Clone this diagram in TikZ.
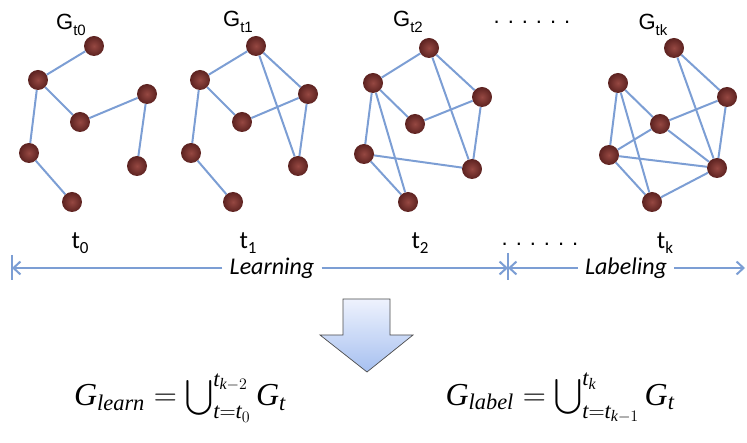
\documentclass[tikz,border=0pt]{standalone}
\usepackage{fix-cm}
\usepackage{exscale}
\usepackage{fontspec}
\setmainfont{Liberation Serif}
\newfontfamily\glabfont{Liberation Sans}
\newfontfamily\tlabfont{Carlito}
\usepackage{tikz}
\usetikzlibrary{arrows.meta, positioning}
\definecolor{nodebrown}{RGB}{92,34,32}
\definecolor{nodelight}{RGB}{150,72,66}
\definecolor{edgeblue}{RGB}{124,158,212}
\definecolor{arrowtop}{RGB}{238,242,253}
\definecolor{arrowbot}{RGB}{166,192,240}
\newcommand\gname[1]{G\raisebox{-6pt}{\fontsize{15}{15}\selectfont #1}}
\newcommand\tname[1]{t\raisebox{-5pt}{\fontsize{17}{17}\selectfont #1}}
\newcommand\sixdots{.\hspace{8pt}.\hspace{8pt}.\hspace{8pt}.\hspace{8pt}.\hspace{8pt}.}
\tikzset{
  vtx/.style    ={circle, inner color=nodelight, outer color=nodebrown,
                  minimum size=20pt, inner sep=0pt},
  gedge/.style  ={draw=edgeblue, line width=2pt},
  glab/.style   ={font=\glabfont\fontsize{22}{22}\selectfont, inner sep=0pt},
  tlab/.style   ={font=\tlabfont\fontsize{25}{25}\selectfont, inner sep=0pt},
  phase/.style  ={font=\tlabfont\itshape\fontsize{24}{24}\selectfont, inner xsep=7pt},
  tline/.style  ={-{Straight Barb[length=7pt,width=13pt]}, draw=edgeblue, line width=2pt},
  tbar/.style   ={draw=edgeblue, line width=1.6pt},
  bigarrow/.style={draw=black!70, line width=0.7pt, top color=arrowtop, bottom color=arrowbot},
  formula/.style={font=\fontsize{32}{38}\selectfont, inner sep=0pt},
}

\begin{document}
\begin{tikzpicture}[x=1pt, y=-1pt]
  \useasboundingbox (0,0) rectangle (747,443);

  % ── Snapshot G_t0 ──────────────────────────────────────────────────
  \node[glab] (h0) at (71,25) {\gname{t0}};
  \node[vtx] (a0) at (94,46)  {};
  \node[vtx] (b0) at (38,80)  {};
  \node[vtx] (c0) at (80,122) {};
  \node[vtx] (d0) at (147,94) {};
  \node[vtx] (e0) at (29,153) {};
  \node[vtx] (f0) at (137,166) {};
  \node[vtx] (g0) at (72,202) {};

  \draw[gedge] (a0)--(b0); \draw[gedge] (b0)--(c0); \draw[gedge] (c0)--(d0);
  \draw[gedge] (d0)--(f0); \draw[gedge] (b0)--(e0); \draw[gedge] (e0)--(g0);

  % ── Snapshot G_t1 ──────────────────────────────────────────────────
  \node[glab] (h1) at (238,22) {\gname{t1}};
  \node[vtx] (a1) at (256,46)  {};
  \node[vtx] (b1) at (200,80)  {};
  \node[vtx] (c1) at (242,122) {};
  \node[vtx] (d1) at (308,94)  {};
  \node[vtx] (e1) at (191,153) {};
  \node[vtx] (f1) at (298,166) {};
  \node[vtx] (g1) at (233,202) {};

  \draw[gedge] (a1)--(b1); \draw[gedge] (b1)--(c1); \draw[gedge] (c1)--(d1);
  \draw[gedge] (a1)--(d1); \draw[gedge] (a1)--(f1); \draw[gedge] (d1)--(f1);
  \draw[gedge] (b1)--(e1); \draw[gedge] (e1)--(g1);

  % ── Snapshot G_t2 ──────────────────────────────────────────────────
  \node[glab] (h2) at (408,22) {\gname{t2}};
  \node[vtx] (a2) at (429,48)  {};
  \node[vtx] (b2) at (373,83)  {};
  \node[vtx] (c2) at (415,124) {};
  \node[vtx] (d2) at (482,97)  {};
  \node[vtx] (e2) at (364,154) {};
  \node[vtx] (f2) at (472,169) {};
  \node[vtx] (g2) at (408,202) {};

  \draw[gedge] (a2)--(b2); \draw[gedge] (b2)--(c2); \draw[gedge] (c2)--(d2);
  \draw[gedge] (a2)--(d2); \draw[gedge] (a2)--(f2); \draw[gedge] (d2)--(f2);
  \draw[gedge] (b2)--(e2); \draw[gedge] (e2)--(g2); \draw[gedge] (e2)--(f2);
  \draw[gedge] (b2)--(g2);

  \node[glab] (hdots) at (532,22) {\sixdots};

  % ── Snapshot G_tk ──────────────────────────────────────────────────
  \node[glab] (hk) at (653,25) {\gname{tk}};
  \node[vtx] (ak) at (674,48)  {};
  \node[vtx] (bk) at (618,83)  {};
  \node[vtx] (ck) at (660,124) {};
  \node[vtx] (dk) at (727,97)  {};
  \node[vtx] (ek) at (609,155) {};
  \node[vtx] (fk) at (717,168) {};
  \node[vtx] (gk) at (652,202) {};

  \draw[gedge] (ak)--(dk); \draw[gedge] (ak)--(fk); \draw[gedge] (dk)--(fk);
  \draw[gedge] (bk)--(ck); \draw[gedge] (ck)--(dk); \draw[gedge] (ck)--(fk);
  \draw[gedge] (bk)--(ek); \draw[gedge] (bk)--(gk); \draw[gedge] (ek)--(ck);
  \draw[gedge] (ek)--(fk); \draw[gedge] (ek)--(gk); \draw[gedge] (gk)--(fk);

  % ── Time axis ──────────────────────────────────────────────────────
  \node[tlab] (t0) at (80,243)  {\tname{0}};
  \node[tlab] (t1) at (248,243) {\tname{1}};
  \node[tlab] (t2) at (420,243) {\tname{2}};
  \node[glab] (tdots) at (540,244) {\sixdots};
  \node[tlab] (tk) at (665,243) {\tname{k}};

  \coordinate (lstart) at (12,268);
  \coordinate (lsplit) at (508,268);
  \coordinate (lend)   at (745,268);
  \node[phase] (learn) at (272,268) {Learning};
  \node[phase] (label) at (626,268) {Labeling};

  \draw[tbar] ([yshift=13pt]lstart) -- ([yshift=-12pt]lstart);
  \draw[tbar] ([yshift=15pt]lsplit) -- ([yshift=-12pt]lsplit);
  \draw[tline] (learn.west) -- (lstart);
  \draw[tline] (learn.east) -- (lsplit);
  \draw[tline] (label.west) -- (lsplit);
  \draw[tline] (label.east) -- (lend);

  % ── Block arrow and union formulas ─────────────────────────────────
  \draw[bigarrow] (343,299) -- (390,299) -- (390,335) -- (413,335)
                  -- (367,372) -- (320,335) -- (343,335) -- cycle;

  \node[formula] (flearn) at (180,398)
    {$\displaystyle \mathit{G}_{\mathit{learn}} = \bigcup\nolimits_{\mathit{t}=\mathit{t}_0}^{\mathit{t}_{\mathit{k}-2}} \mathit{G}_{\mathit{t}}$};
  \node[formula] (flabel) at (560,398)
    {$\displaystyle \mathit{G}_{\mathit{label}} = \bigcup\nolimits_{\mathit{t}=\mathit{t}_{\mathit{k}-1}}^{\mathit{t}_{\mathit{k}}} \mathit{G}_{\mathit{t}}$};

\end{tikzpicture}
\end{document}
